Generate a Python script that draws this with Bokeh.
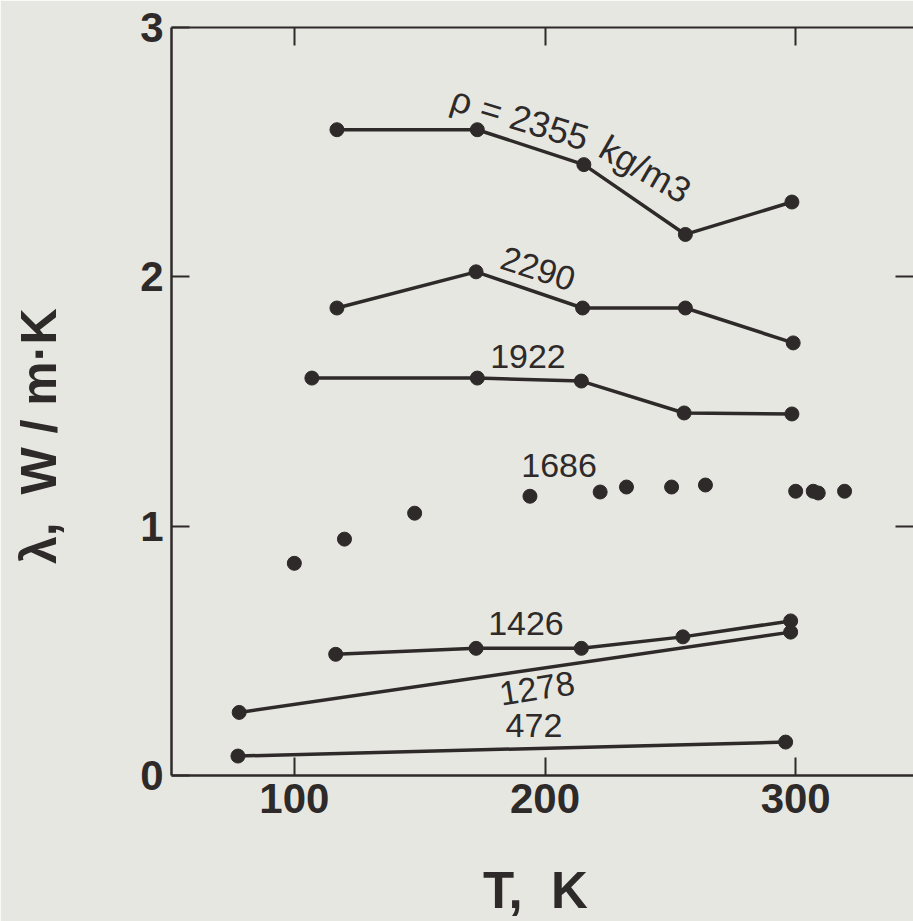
import math
from bokeh.plotting import figure
from bokeh.models import LinearAxis, FixedTicker, Range1d
from bokeh.embed import file_html
from bokeh.resources import INLINE
from bokeh.core.properties import value

# ---- data ----
T_2355 = [117, 173, 215.5, 256, 298.5]
L_2355 = [2.59, 2.59, 2.45, 2.17, 2.30]

T_2290 = [117, 172.5, 215, 256, 299]
L_2290 = [1.875, 2.02, 1.875, 1.875, 1.735]

T_1922 = [107, 173, 214.5, 255.5, 298.5]
L_1922 = [1.594, 1.594, 1.582, 1.454, 1.45]

T_1686 = [100, 120, 148, 194, 222, 232.5, 250.5, 264, 300, 307, 309, 319.5]
L_1686 = [0.851, 0.948, 1.052, 1.12, 1.137, 1.157, 1.157, 1.165, 1.14, 1.14, 1.133, 1.14]

T_1426 = [116.5, 172.5, 214.5, 255, 298]
L_1426 = [0.486, 0.51, 0.51, 0.556, 0.62]

T_1278 = [78, 298]
L_1278 = [0.253, 0.575]

T_472 = [77.5, 296]
L_472 = [0.078, 0.134]

x_ticks = [100, 200, 300]
y_ticks = [0, 1, 2, 3]

label_text = ["\u03c1 = 2355", "kg/m3", "2290", "1922", "1686", "1426", "1278", "472"]
label_T = [190.0, 240.0, 197.2, 193.2, 205.6, 192.4, 196.8, 195.6]
label_L = [2.636, 2.432, 2.032, 1.679, 1.245, 0.610, 0.349, 0.201]
label_deg = [-17, -30, -18, 0, 0, 0, 9, 0]
label_size = ["36px", "36px", "34px", "34px", "34px", "34px", "34px", "34px"]

INK = "#2e2a2a"
BG = "#e7e7e1"

p = figure(width=913, height=921,
           x_range=Range1d(51, 347), y_range=Range1d(0, 3),
           output_backend="svg", toolbar_location=None,
           min_border_left=171, min_border_right=0,
           min_border_top=27, min_border_bottom=146)

p.background_fill_color = BG
p.border_fill_color = BG
p.outline_line_color = None
p.grid.visible = False

def style_axis(ax, ticks, labels=True):
    ax.ticker = FixedTicker(ticks=ticks)
    ax.major_tick_in = 18
    ax.major_tick_out = 0
    ax.minor_tick_in = 0
    ax.minor_tick_out = 0
    ax.major_tick_line_color = INK
    ax.major_tick_line_width = 2
    ax.axis_line_color = INK
    ax.axis_line_width = 2.5
    if labels:
        ax.major_label_text_font = "Liberation Sans"
        ax.major_label_text_font_style = "bold"
        ax.major_label_text_font_size = "42px"
        ax.major_label_text_color = INK
    else:
        ax.major_label_text_font_size = "0px"
        ax.major_label_text_color = None
        ax.major_label_standoff = 0

xa = p.xaxis[0]
style_axis(xa, x_ticks)
xa.major_label_standoff = 8
xa.axis_label = "T,\u00a0\u00a0K\u00a0"
xa.axis_label_text_font = "Liberation Sans"
xa.axis_label_text_font_style = "bold"
xa.axis_label_text_font_size = "51px"
xa.axis_label_text_color = INK
xa.axis_label_standoff = 46

ya = p.yaxis[0]
style_axis(ya, y_ticks)
ya.major_label_standoff = 8
ya.axis_label = "\u03bb,\u00a0 W / m\u00b7K" + "\u00a0" * 5
ya.axis_label_text_font = "Liberation Sans"
ya.axis_label_text_font_style = "bold"
ya.axis_label_text_font_size = "50px"
ya.axis_label_text_color = INK
ya.axis_label_standoff = 70

top = LinearAxis()
style_axis(top, x_ticks, labels=False)
top.axis_line_width = 2
p.add_layout(top, "above")

right = LinearAxis()
style_axis(right, [1, 2], labels=False)
right.axis_line_color = None
p.add_layout(right, "right")

series = [(T_2355, L_2355, True), (T_2290, L_2290, True), (T_1922, L_1922, True),
          (T_1686, L_1686, False), (T_1426, L_1426, True), (T_1278, L_1278, True),
          (T_472, L_472, True)]
for xs, ys, connected in series:
    if connected:
        p.line(xs, ys, line_color=INK, line_width=3.5)
    p.scatter(xs, ys, size=14, fill_color=INK, line_color=INK)

p.text(x=label_T, y=label_L, text=label_text,
       angle=[math.radians(a) for a in label_deg],
       text_font=value("Liberation Sans"), text_font_size=label_size,
       text_color=INK, text_align="center", text_baseline="middle")

html = file_html(p, INLINE)
html = html.replace("<body>", '<body style="background-color:%s;">' % BG, 1)
open("out.html", "w").write(html)
